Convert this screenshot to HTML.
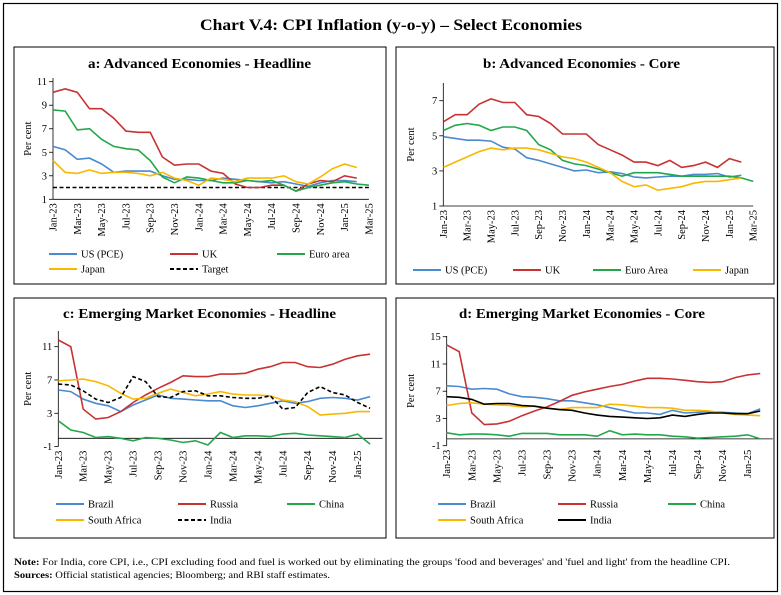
<!DOCTYPE html>
<html><head><meta charset="utf-8"><style>
html,body{margin:0;padding:0;background:#fff;}
svg{display:block;font-family:"Liberation Serif",serif;}
</style></head><body>
<svg id="s" width="781" height="595" viewBox="0 0 781 595" xmlns="http://www.w3.org/2000/svg">
<rect x="3.5" y="3.5" width="774" height="588" fill="none" stroke="#000" stroke-width="1.2"/>
<text x="200" y="30" font-size="16" font-weight="bold" textLength="382" lengthAdjust="spacingAndGlyphs">Chart V.4: CPI Inflation (y-o-y) – Select Economies</text>
<rect x="14" y="47" width="372" height="237" fill="none" stroke="#000" stroke-width="1"/>
<rect x="396" y="47" width="378" height="237" fill="none" stroke="#000" stroke-width="1"/>
<rect x="14" y="298" width="372" height="240" fill="none" stroke="#000" stroke-width="1"/>
<rect x="396" y="298" width="378" height="240" fill="none" stroke="#000" stroke-width="1"/>
<text x="88" y="68" font-size="14" font-weight="bold" textLength="223" lengthAdjust="spacingAndGlyphs">a: Advanced Economies - Headline</text>
<text x="483" y="68" font-size="14" font-weight="bold" textLength="197" lengthAdjust="spacingAndGlyphs">b: Advanced Economies - Core</text>
<text x="63" y="318" font-size="14" font-weight="bold" textLength="273" lengthAdjust="spacingAndGlyphs">c: Emerging Market Economies - Headline</text>
<text x="459" y="318" font-size="14" font-weight="bold" textLength="246" lengthAdjust="spacingAndGlyphs">d: Emerging Market Economies - Core</text>
<text x="14" y="565" font-size="9" textLength="716" lengthAdjust="spacingAndGlyphs"><tspan font-weight="bold">Note:</tspan> For India, core CPI, i.e., CPI excluding food and fuel is worked out by eliminating the groups 'food and beverages' and 'fuel and light' from the headline CPI.</text>
<text x="14" y="578" font-size="9" textLength="316" lengthAdjust="spacingAndGlyphs"><tspan font-weight="bold">Sources:</tspan> Official statistical agencies; Bloomberg; and RBI staff estimates.</text>
<g id="g"></g>
</svg>
<script>
var g=document.getElementById('g'),h='';
var B='#4a8ad0',R='#c83232',G='#22a84a',Y='#f8b800',K='#000';
var M=['Jan','Feb','Mar','Apr','May','Jun','Jul','Aug','Sep','Oct','Nov','Dec'];
function mlab(i){return M[i%12]+'-'+(23+Math.floor(i/12));}
function panel(p){
 var X=function(i){return p.x0+i*p.dx;}, Y=function(v){return p.yref+(p.vref-v)*p.py;};
 h+='<line x1="'+p.x0+'" y1="'+p.ytop+'" x2="'+p.x0+'" y2="'+Y(p.vmin)+'" stroke="#000" stroke-width="0.8"/>';
 var ax=Y(p.axv);
 h+='<line x1="'+p.x0+'" y1="'+ax+'" x2="'+(p.x0+p.nx*p.dx)+'" y2="'+ax+'" stroke="#000" stroke-width="0.8"/>';
 p.yt.forEach(function(v){var y=Y(v);h+='<line x1="'+(p.x0-4)+'" y1="'+y+'" x2="'+p.x0+'" y2="'+y+'" stroke="#000" stroke-width="0.8"/><text x="'+(p.x0-6)+'" y="'+(y+3.5)+'" text-anchor="end" font-size="10.5">'+v+'</text>';});
 for(var i=0;i<=p.nl;i+=2){var x=X(i);h+='<text transform="translate('+(x+3.5)+','+(Y(p.vmin)+4)+') rotate(-90)" text-anchor="end" font-size="10.5">'+mlab(i)+'</text>';}
 h+='<text transform="translate('+p.ylx+','+((p.ytop+Y(p.vmin))/2)+') rotate(-90)" text-anchor="middle" font-size="10.5">Per cent</text>';
 p.s.forEach(function(s){var pts=s.d.map(function(v,i){return X(i).toFixed(1)+','+Y(v).toFixed(1);}).join(' ');
  h+='<polyline points="'+pts+'" fill="none" stroke="'+s.c+'" stroke-width="1.6"'+(s.dash?' stroke-dasharray="4,2.5"':'')+'/>';});
 p.lg.forEach(function(l){h+='<line x1="'+l[0]+'" y1="'+l[1]+'" x2="'+(l[0]+28)+'" y2="'+l[1]+'" stroke="'+l[3]+'" stroke-width="2"'+(l[4]?' stroke-dasharray="4,2.5"':'')+'/><text x="'+(l[0]+32)+'" y="'+(l[1]+3.5)+'" font-size="10.5">'+l[2]+'</text>';});
}
panel({x0:53,dx:12.15,nx:26,nl:26,yref:199.3,vref:1,py:11.76,ytop:78,vmin:1,axv:1,yt:[1,3,5,7,9,11],ylx:31,
s:[{c:K,dash:1,d:Array(27).fill(2)},
{c:B,d:[5.5,5.2,4.4,4.5,4.0,3.3,3.4,3.4,3.4,3.0,2.7,2.7,2.6,2.6,2.8,2.7,2.6,2.5,2.4,2.5,2.3,2.1,2.4,2.6,2.6,2.5]},
{c:R,d:[10.1,10.4,10.1,8.7,8.7,7.9,6.8,6.7,6.7,4.6,3.9,4.0,4.0,3.4,3.2,2.3,2.0,2.0,2.2,2.2,1.7,2.3,2.6,2.5,3.0,2.8]},
{c:G,d:[8.6,8.5,6.9,7.0,6.1,5.5,5.3,5.2,4.3,2.9,2.4,2.9,2.8,2.6,2.4,2.4,2.6,2.5,2.6,2.2,1.7,2.0,2.2,2.4,2.5,2.3,2.2]},
{c:Y,d:[4.3,3.3,3.2,3.5,3.2,3.3,3.3,3.2,3.0,3.3,2.8,2.6,2.2,2.8,2.7,2.5,2.8,2.8,2.8,3.0,2.5,2.3,2.9,3.6,4.0,3.7]}],
lg:[[49,254,'US (PCE)',B],[170,254,'UK',R],[277,254,'Euro area',G],[49,269,'Japan',Y],[170,269,'Target',K,1]]});
panel({x0:443.3,dx:11.92,nx:26,nl:26,yref:206,vref:1,py:17.55,ytop:83,vmin:1,axv:1,yt:[1,3,5,7],ylx:414,
s:[{c:B,d:[4.95,4.85,4.75,4.75,4.7,4.35,4.25,3.75,3.6,3.4,3.2,3.0,3.05,2.9,2.95,2.85,2.65,2.6,2.65,2.7,2.7,2.8,2.8,2.85,2.65,2.75]},
{c:R,d:[5.8,6.2,6.2,6.8,7.1,6.9,6.9,6.2,6.1,5.7,5.1,5.1,5.1,4.5,4.2,3.9,3.5,3.5,3.3,3.6,3.2,3.3,3.5,3.2,3.7,3.5]},
{c:G,d:[5.3,5.6,5.7,5.6,5.3,5.5,5.5,5.3,4.5,4.2,3.6,3.4,3.3,3.1,2.9,2.7,2.9,2.9,2.9,2.8,2.7,2.7,2.7,2.7,2.7,2.6,2.4]},
{c:Y,d:[3.2,3.5,3.8,4.1,4.3,4.2,4.3,4.3,4.2,4.0,3.8,3.7,3.5,3.2,2.9,2.4,2.1,2.2,1.9,2.0,2.1,2.3,2.4,2.4,2.5,2.6]}],
lg:[[413,270,'US (PCE)',B],[513,270,'UK',R],[593,270,'Euro Area',G],[693,270,'Japan',Y]]});
panel({x0:58.3,dx:12.47,nx:26,nl:24,yref:413.3,vref:3,py:8.33,ytop:331,vmin:-1,axv:0,yt:[-1,3,7,11],ylx:31,
s:[{c:B,d:[5.8,5.6,4.7,4.2,3.9,3.2,4.0,4.6,5.2,4.8,4.7,4.6,4.5,4.5,3.9,3.7,3.9,4.2,4.5,4.2,4.4,4.8,4.9,4.8,4.6,5.0]},
{c:R,d:[11.8,11.0,3.5,2.3,2.5,3.2,4.3,5.2,6.0,6.7,7.5,7.4,7.4,7.7,7.7,7.8,8.3,8.6,9.1,9.1,8.6,8.5,8.9,9.5,9.9,10.1]},
{c:G,d:[2.1,1.0,0.7,0.1,0.2,0.0,-0.3,0.1,0.0,-0.2,-0.5,-0.3,-0.8,0.7,0.1,0.3,0.3,0.2,0.5,0.6,0.4,0.3,0.2,0.1,0.5,-0.7]},
{c:Y,d:[6.9,7.0,7.1,6.8,6.3,5.4,4.7,4.8,5.4,5.9,5.5,5.1,5.3,5.6,5.3,5.2,5.2,5.1,4.6,4.4,3.8,2.8,2.9,3.0,3.2,3.2]},
{c:K,dash:1,d:[6.5,6.4,5.7,4.7,4.3,4.9,7.4,6.8,5.0,4.9,5.6,5.7,5.1,5.1,4.9,4.8,4.8,5.1,3.5,3.7,5.5,6.2,5.5,5.2,4.3,3.6]}],
lg:[[56,504,'Brazil',B],[178,504,'Russia',R],[287,504,'China',G],[56,520,'South Africa',Y],[178,520,'India',K,1]]});
panel({x0:446.7,dx:12.54,nx:26,nl:24,yref:445.7,vref:-1,py:6.81,ytop:336,vmin:-1,axv:0,yt:[-1,3,7,11,15],ylx:414,
s:[{c:B,d:[7.8,7.7,7.3,7.4,7.3,6.6,6.2,6.1,5.9,5.6,5.6,5.3,5.0,4.6,4.2,3.8,3.8,3.6,4.2,3.8,3.9,4.0,3.9,3.8,3.7,4.4]},
{c:R,d:[13.8,12.8,3.8,2.1,2.2,2.6,3.4,4.1,4.7,5.5,6.4,6.9,7.3,7.7,8.0,8.5,8.9,8.9,8.8,8.6,8.4,8.3,8.4,9.0,9.4,9.6]},
{c:G,d:[0.9,0.6,0.7,0.7,0.6,0.4,0.8,0.8,0.8,0.6,0.6,0.6,0.4,1.2,0.6,0.7,0.6,0.6,0.4,0.3,0.1,0.2,0.3,0.4,0.6,0.0]},
{c:Y,d:[4.9,5.2,5.3,5.1,5.0,4.9,4.7,4.8,4.5,4.3,4.6,4.6,4.6,5.1,5.0,4.8,4.6,4.6,4.5,4.2,4.2,4.1,3.8,3.6,3.5,3.4]},
{c:K,d:[6.2,6.1,5.8,5.1,5.2,5.2,4.9,4.8,4.5,4.3,4.2,3.8,3.5,3.3,3.2,3.1,3.0,3.1,3.5,3.3,3.6,3.8,3.8,3.7,3.7,4.1]}],
lg:[[438,504,'Brazil',B],[558,504,'Russia',R],[668,504,'China',G],[438,520,'South Africa',Y],[558,520,'India',K]]});
g.innerHTML=h;
</script>
</body></html>
